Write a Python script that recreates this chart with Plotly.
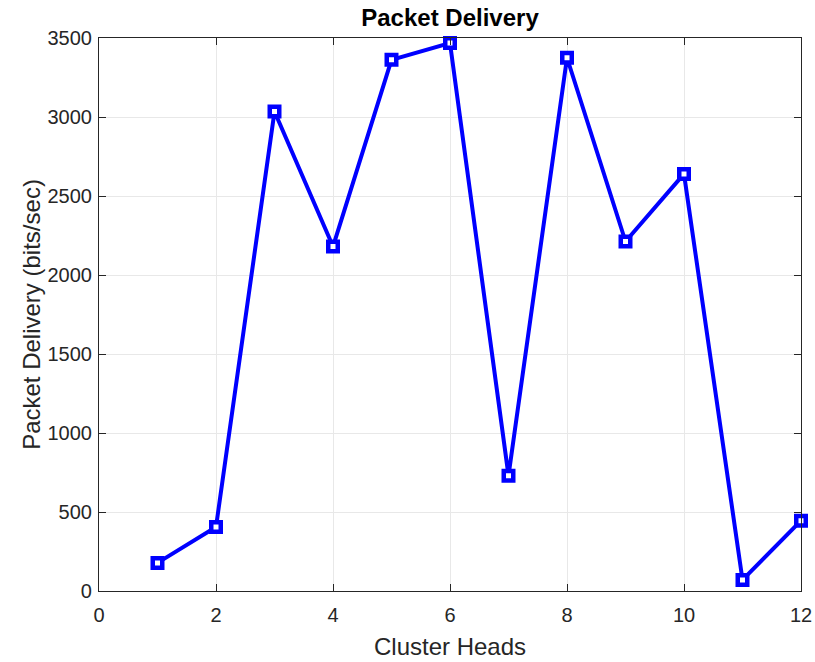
import plotly.graph_objects as go

cluster_heads = [1, 2, 3, 4, 5, 6, 7, 8, 9, 10, 11, 12]
packet_delivery = [178, 405, 3035, 2180, 3362, 3468, 730, 3375, 2212, 2640, 70, 445]

x_ticks = [0, 2, 4, 6, 8, 10, 12]
y_ticks = [0, 500, 1000, 1500, 2000, 2500, 3000, 3500]

FONT = "Liberation Sans, Arial, sans-serif"

fig = go.Figure()
fig.add_trace(go.Scatter(
    x=cluster_heads, y=packet_delivery, mode="lines+markers",
    line=dict(color="#0000ff", width=4),
    marker=dict(symbol="square", size=9.5, color="white",
                line=dict(color="#0000ff", width=4.5)),
    showlegend=False, cliponaxis=False,
))

axis_common = dict(
    showline=True, linecolor="#262626", linewidth=1.2, mirror="ticks",
    ticks="inside", ticklen=7, tickcolor="#262626", tickwidth=1.2,
    showgrid=True, gridcolor="#e8e8e8", gridwidth=1, zeroline=False,
    automargin=False,
    tickfont=dict(family=FONT, size=20, color="#262626"),
)

W, H = 815, 662
fig.update_layout(
    width=W, height=H,
    margin=dict(l=99, r=14, t=38, b=71, autoexpand=False),
    paper_bgcolor="white", plot_bgcolor="white",
    title=dict(text="<b>Packet Delivery</b>", x=0.5, xanchor="center", xref="paper",
               y=1 - 18 / H, yanchor="middle",
               font=dict(family=FONT, size=24, color="black")),
    xaxis=dict(range=[0, 12], tickvals=x_ticks, ticklabelstandoff=6,
               title=dict(text="Cluster Heads", standoff=13,
                          font=dict(family=FONT, size=24, color="#262626")),
               **axis_common),
    yaxis=dict(range=[0, 3500], tickvals=y_ticks, ticklabelstandoff=2,
               title=dict(text="Packet Delivery (bits/sec)", standoff=0,
                          font=dict(family=FONT, size=24, color="#262626")),
               **axis_common),
)

fig.write_html(
    "out.html",
    config={"responsive": False, "displayModeBar": False},
    post_script="document.body.style.margin='0px';document.body.style.overflow='hidden';",
)
